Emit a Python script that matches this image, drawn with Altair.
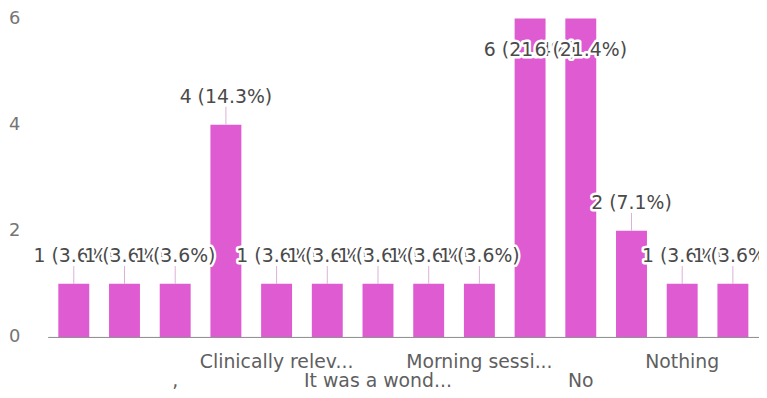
import json
import altair as alt
import pandas as pd

# ---- data ----
responses = ["-", ".", ",", "All good", "Clinically relev...", "Good",
             "It was a wond...", "Long sessions", "Morning sessi...", "Nil",
             "No", "No comments", "Nothing", "Nothing much"]
counts = [1, 1, 1, 4, 1, 1, 1, 1, 1, 6, 6, 2, 1, 1]
shown_labels = ["", "", ",", "", "Clinically relev...", "", "It was a wond...", "",
                "Morning sessi...", "", "No", "", "Nothing", ""]
second_row = [",", "It was a wond...", "No"]
y_ticks = [0, 2, 4, 6]

BAR = "#de5bd1"
FONT = "DejaVu Sans"

df = pd.DataFrame({"response": responses, "count": counts, "idx": list(range(len(responses)))})
max_count = max(counts)

label_expr = (
    f"(indexof({json.dumps(second_row)}, datum.value) >= 0) ? "
    f"['', {json.dumps(shown_labels)}[indexof({json.dumps(responses)}, datum.value)]] : "
    f"{json.dumps(shown_labels)}[indexof({json.dumps(responses)}, datum.value)]"
)

x_enc = alt.X("response:N", sort=responses,
              scale=alt.Scale(paddingInner=0.39, paddingOuter=0.21),
              axis=alt.Axis(title=None, labelAngle=0, ticks=False, tickSize=0,
                            domainColor="#8a8a8a", domainWidth=1,
                            labelFont=FONT, labelFontSize=19, labelColor="#5f5f5f",
                            labelBaseline="alphabetic", labelPadding=31,
                            labelLineHeight=19, labelExpr=label_expr,
                            labelLimit=0, labelOverlap=False, labelBound=False))
y_enc = alt.Y("count:Q", scale=alt.Scale(domain=[0, 6], nice=False),
              axis=alt.Axis(title=None, values=y_ticks, format="d", grid=False, domain=False,
                            ticks=False, tickSize=0, labelPadding=28,
                            labelFont=FONT, labelFontSize=18, labelColor="#757575"))

base = alt.Chart(df).transform_joinaggregate(total="sum(count)").transform_calculate(
    label="datum.count + ' (' + format(datum.count / datum.total * 100, '.1f') + '%)'"
)

bars = base.mark_bar(color=BAR).encode(x=x_enc, y=y_enc)

stems = base.transform_filter(f"datum.count < {max_count}").mark_rule(
    color="#dcb0d8", strokeWidth=1, y2Offset=-18
).encode(x=alt.X("response:N", sort=responses), y="count:Q", y2="count:Q")

layers = [bars, stems]
for i, c in enumerate(counts):
    dy = 38 if c == max_count else -22
    sub = base.transform_filter(f"datum.idx == {i}")
    halo = sub.mark_text(font=FONT, fontSize=19, baseline="alphabetic", dy=dy,
                         fill="white", stroke="white", strokeWidth=5,
                         strokeJoin="round").encode(
        x=alt.X("response:N", sort=responses), y="count:Q", text="label:N")
    txt = sub.mark_text(font=FONT, fontSize=19, baseline="alphabetic", dy=dy,
                        color="#4a4a4a").encode(
        x=alt.X("response:N", sort=responses), y="count:Q", text="label:N")
    layers += [halo, txt]

chart = alt.layer(*layers).properties(
    width=717, height=321,
    autosize=alt.AutoSizeParams(type="none"),
    padding={"left": 40, "top": 9, "right": 0, "bottom": 60},
).configure_view(stroke=None)

chart.save("out.html", embed_options={"renderer": "svg", "actions": False})
